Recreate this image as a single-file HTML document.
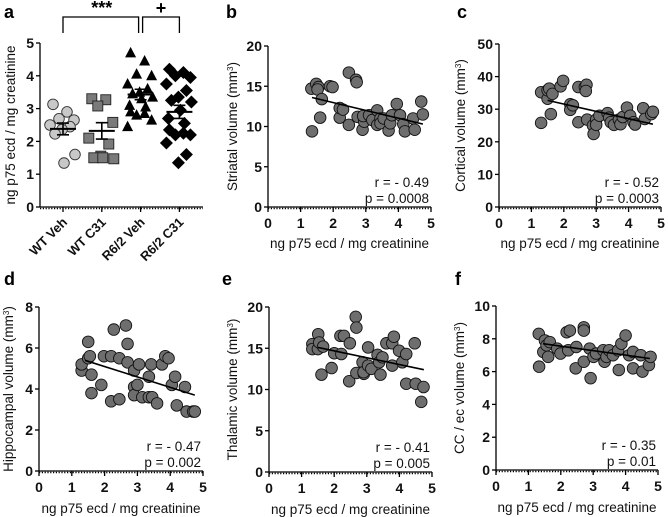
<!DOCTYPE html>
<html><head><meta charset="utf-8">
<style>
body{margin:0;background:#fff;}
svg{display:block;font-family:"Liberation Sans",Arial,sans-serif;}
.tk{font-size:14px;font-weight:bold;fill:#111;}
.gl{font-size:13px;font-weight:bold;fill:#111;}
.tt{font-size:13.5px;fill:#111;}
.pl{font-size:18px;font-weight:bold;fill:#000;}
.st{font-size:13.5px;fill:#111;}
</style></head>
<body>
<svg id="fig" width="668" height="517" viewBox="0 0 668 517" xmlns="http://www.w3.org/2000/svg"></svg>
<script>
// ----- Panel a data -----
const aGroups = ["WT Veh","WT C31","R6/2 Veh","R6/2 C31"];
const aWTVeh = [3.13,2.9,2.69,2.65,2.5,2.45,2.36,2.23,1.6,1.34];
const aWTC31 = [3.3,3.27,3.08,2.58,2.1,1.92,1.55,1.5,1.47,1.5];
const aR62Veh = [4.7,4.45,4.05,4.0,3.75,3.6,3.5,3.45,3.35,3.3,3.1,3.05,2.9,2.85,2.8,2.65,2.45];
const aR62C31 = [4.2,4.1,4.0,3.95,3.75,3.55,3.35,3.25,3.2,2.95,2.7,2.55,2.35,2.25,2.2,2.2,1.95,1.6,1.35];
const aMeans = [2.38,2.32,3.43,2.9];
const aSems = [0.18,0.25,0.16,0.2];
const aYTicks = [0,1,2,3,4,5];
// ----- Scatter x ticks -----
const xTicks = [0,1,2,3,4,5];
// ----- Panel b -----
const bX=[1.33,1.35,1.48,1.55,1.52,1.6,1.65,1.9,1.98,2.2,2.2,2.3,2.48,2.48,2.7,2.72,2.75,2.9,2.95,2.92,3.1,3.2,3.35,3.35,3.45,3.45,3.55,3.7,3.75,3.8,3.95,4.05,4.15,4.2,4.45,4.5,4.7,4.75];
const bY=[14.7,9.4,15.3,14.9,14.6,11.1,13.4,15.0,14.9,11.1,12.3,12.1,10.2,16.7,15.8,15.5,11.2,9.6,10.6,11.3,11.4,10.8,12.0,10.2,11.0,10.4,11.0,9.5,10.4,11.4,12.8,11.4,10.3,9.4,11.0,9.6,13.1,11.5];
const bFit=[[1.35,13.6],[4.75,10.3]];
const bYTicks=[0,5,10,15,20];
// ----- Panel c -----
const cX=[1.3,1.3,1.5,1.5,1.55,1.65,1.6,1.9,1.98,2.2,2.2,2.28,2.45,2.45,2.65,2.7,2.68,2.72,2.9,2.92,3.0,3.0,3.1,3.35,3.4,3.45,3.55,3.7,3.75,3.82,3.95,4.05,4.15,4.2,4.45,4.5,4.7,4.75];
const cY=[35.2,25.8,33.2,35.8,36.3,34.7,28.5,37,38.7,31.5,29.8,31.2,26,36.8,36.8,37.5,35.6,26.8,25,22.4,26.8,25.2,28,28.8,27.4,26,25.2,26.8,25.4,27.6,30.5,28,26,25.3,30.3,27,28.5,29.2];
const cFit=[[1.5,32.7],[4.75,25.4]];
const cYTicks=[0,10,20,30,40,50];
// ----- Panel d -----
const dX=[1.3,1.3,1.5,1.5,1.55,1.6,1.6,1.9,1.98,2.2,2.2,2.28,2.45,2.45,2.65,2.7,2.7,2.9,2.9,2.9,3.0,3.05,3.15,3.35,3.35,3.42,3.45,3.6,3.75,3.85,3.95,4.05,4.15,4.2,4.45,4.5,4.7,4.75];
const dY=[4.9,5.2,6.3,5.5,5.6,4.7,3.8,4.2,5.6,5.6,3.4,6.9,3.5,5.5,7.1,6.2,5.3,4.9,4.1,3.7,4.2,5.2,3.6,4.6,3.6,5.2,3.6,3.3,5.2,5.6,5.5,4.2,4.6,3.2,4.1,2.9,2.9,2.9];
const dFit=[[1.4,5.4],[4.75,3.7]];
const dYTicks=[0,2,4,6,8];
// ----- Panel e -----
const eX=[1.33,1.33,1.51,1.5,1.54,1.61,1.66,1.92,2.0,2.19,2.22,2.3,2.46,2.48,2.66,2.68,2.68,2.87,2.91,2.9,3.04,3.04,3.14,3.33,3.38,3.42,3.48,3.6,3.78,3.78,3.83,3.99,4.09,4.21,4.21,4.47,4.5,4.74,4.67];
const eY=[15.5,14.9,16.7,14.9,15.7,11.8,15.2,12.6,14.4,16.5,14.3,16.5,11.0,15.6,18.8,17.5,12.0,13.3,11.9,12.1,15.1,12.9,12.5,14.2,13.3,11.8,13.9,15.6,15.6,12.9,16.4,14.7,13.3,14.3,10.7,15.6,10.7,10.3,8.5];
const eFit=[[1.5,15.1],[4.75,12.4]];
const eYTicks=[0,5,10,15,20];
// ----- Panel f -----
const fX=[1.32,1.33,1.46,1.51,1.56,1.61,1.66,1.89,1.99,2.18,2.28,2.23,2.46,2.48,2.71,2.71,2.71,2.89,2.92,3.01,3.09,3.31,3.35,3.41,3.49,3.61,3.77,3.79,3.87,4.0,4.11,4.23,4.23,4.47,4.52,4.72,4.77];
const fY=[8.3,6.3,7.2,7.9,7.6,6.9,7.8,7.4,7.1,8.4,8.5,7.3,6.2,7.5,8.7,8.5,6.6,7.4,5.6,6.9,7.1,7.3,6.6,6.9,7.3,7.0,7.3,6.1,7.7,8.2,7.0,7.2,6.2,7.0,6.0,6.4,6.9];
const fFit=[[1.45,7.7],[4.75,6.8]];
const fYTicks=[0,2,4,6,8,10];

const NS="http://www.w3.org/2000/svg";
const svg=document.getElementById('fig');
function mk(tag,attrs,parent,txt){const e=document.createElementNS(NS,tag);for(const k in attrs)e.setAttribute(k,attrs[k]);if(txt!==undefined)e.textContent=txt;(parent||svg).appendChild(e);return e;}

function axisY(g,x0,yPix,ticks){
  const ln=mk('line',{x1:x0,x2:x0,y1:yPix(ticks[ticks.length-1]),y2:yPix(0),stroke:'#000','stroke-width':1.3},g);
  
  
  ticks.forEach(t=>{
    const tk=mk('line',{x1:x0-4,x2:x0,y1:yPix(t),y2:yPix(t),stroke:'#000','stroke-width':1.3},g);
    
    
    const tl=mk('text',{x:x0-6,y:yPix(t)+5,'text-anchor':'end',class:'tk'},g,String(t));
    
    
  });
}
function dottedX(g,x0,x1,y){
  const l=mk('line',{x1:x0,x2:x1,y1:y,y2:y,stroke:'#000','stroke-width':1.2},g);
  
  
  const d=mk('line',{x1:x0,x2:x1,y1:y+1.5,y2:y+1.5,stroke:'#000','stroke-width':1.5,'stroke-dasharray':'1.2 1.6'},g);
  
  
}
function ytitle(g,x,y,label){
  const t=mk('text',{x:0,y:0,class:'tt','text-anchor':'middle',transform:`translate(${x},${y}) rotate(-90)`},g);
  
  
  mk('tspan',{},t,label+' (mm');
  mk('tspan',{'baseline-shift':'super','font-size':'8px'},t,'3');
  mk('tspan',{},t,')');
}

function scatter(name,letter,X,Y,fit,yTicks,lab,r,p,L){
  const g=mk('g',{});
  
  
  const ymax=yTicks[yTicks.length-1];
  const xs=v=>L.x0+(L.x1-L.x0)*v/5;
  const ys=v=>L.y0-(L.y0-L.yt)*v/ymax;
  const pl=mk('text',{x:L.lx,y:L.ly,class:'pl'},g,letter);
  
  
  axisY(g,L.x0,ys,yTicks);
  dottedX(g,L.x0,L.x1,L.y0);
  xTicks.forEach(t=>{
    const tk=mk('line',{x1:xs(t),x2:xs(t),y1:L.y0,y2:L.y0+5,stroke:'#000','stroke-width':1.3},g);
    
    
    const tl=mk('text',{x:xs(t),y:L.y0+21,'text-anchor':'middle',class:'tk'},g,String(t));
    
    
  });
  const xt=mk('text',{x:(L.x0+L.x1)/2,y:L.y0+L.xtOff,'text-anchor':'middle',class:'tt'},g,'ng p75 ecd / mg creatinine');
  
  
  ytitle(g,L.x0-L.ytOff,(L.y0+L.yt)/2,lab);
  X.forEach((xv,i)=>{
    const c=mk('circle',{cx:xs(xv),cy:ys(Y[i]),r:5.8,fill:'#6e6e6e',stroke:'#111','stroke-width':0.9},g);
    
    
  });
  const fl=mk('line',{x1:xs(fit[0][0]),y1:ys(fit[0][1]),x2:xs(fit[1][0]),y2:ys(fit[1][1]),stroke:'#000','stroke-width':1.6},g);
  
  
  const rt=mk('text',{x:L.x1-2,y:L.y0-20,'text-anchor':'end',class:'st'},g,'r = - '+r);
  
  
  const pt=mk('text',{x:L.x1-2,y:L.y0-4,'text-anchor':'end',class:'st'},g,'p = '+p);
  
  
}

scatter('b','b',bX,bY,bFit,bYTicks,'Striatal volume','0.49','0.0008',{x0:268,x1:431,y0:207,yt:46,lx:226,ly:18,ytOff:31,xtOff:41});
scatter('c','c',cX,cY,cFit,cYTicks,'Cortical volume','0.52','0.0003',{x0:499,x1:661,y0:207,yt:44,lx:457,ly:18,ytOff:34,xtOff:41});
scatter('d','d',dX,dY,dFit,dYTicks,'Hippocampal volume','0.47','0.002',{x0:39,x1:203,y0:471,yt:307,lx:4,ly:285,ytOff:26,xtOff:42});
scatter('e','e',eX,eY,eFit,eYTicks,'Thalamic volume','0.41','0.005',{x0:269,x1:432,y0:472,yt:307,lx:222,ly:285,ytOff:32,xtOff:42});
scatter('f','f',fX,fY,fFit,fYTicks,'CC / ec volume','0.35','0.01',{x0:496,x1:658,y0:470,yt:306,lx:455,ly:285,ytOff:32,xtOff:42});

// ----- Panel a -----
(function(){
  const g=mk('g',{});
  
  
  const x0=40,x1=203,y0=207,yt=43;
  const ys=v=>y0-(y0-yt)*v/5;
  const gx=i=>63+i*38.8;
  const pl=mk('text',{x:4,y:18,class:'pl'},g,'a');
  
  
  axisY(g,x0,ys,aYTicks);
  dottedX(g,x0,x1,y0);
  const yt2=mk('text',{x:0,y:0,class:'tt','text-anchor':'middle',transform:`translate(15,125) rotate(-90)`},g,'ng p75 ecd / mg creatinine');
  
  
  const groups=[aWTVeh,aWTC31,aR62Veh,aR62C31];
  const fills=['#c8c8c8','#7a7a7a','#000','#000'];
  const jit=[-10,4,-4,11,-13,7,-1,-8,12,1,-11,5];
  groups.forEach((vals,gi)=>{
    const cx=gx(gi);
    const tk=mk('line',{x1:cx,x2:cx,y1:y0,y2:y0+5,stroke:'#000','stroke-width':1.3},g);
    
    
    const tl=mk('text',{x:0,y:0,'text-anchor':'end',class:'gl',transform:`translate(${cx+5},${y0+16}) rotate(-45)`},g,aGroups[gi]);
    
    
    vals.forEach((v,i)=>{
      const px=cx+jit[i%jit.length], py=ys(v);
      let m;
      if(gi===0) m=mk('circle',{cx:px,cy:py,r:5.3,fill:fills[0],stroke:'#333','stroke-width':0.9},g);
      else if(gi===1) m=mk('rect',{x:px-5,y:py-5,width:10,height:10,fill:fills[1],stroke:'#222','stroke-width':0.9},g);
      else if(gi===2) m=mk('polygon',{points:`${px},${py-6} ${px-5.5},${py+4.5} ${px+5.5},${py+4.5}`,fill:'#000'},g);
      else m=mk('polygon',{points:`${px},${py-6.5} ${px+6.5},${py} ${px},${py+6.5} ${px-6.5},${py}`,fill:'#000'},g);
      
      
    });
    const mean=aMeans[gi],sem=aSems[gi];
    const ml=mk('line',{x1:cx-13,x2:cx+13,y1:ys(mean),y2:ys(mean),stroke:'#000','stroke-width':2},g);
    
    
    const el=mk('path',{d:`M${cx},${ys(mean-sem)}V${ys(mean+sem)}M${cx-6},${ys(mean+sem)}H${cx+6}M${cx-6},${ys(mean-sem)}H${cx+6}`,stroke:'#000','stroke-width':1.6,fill:'none'},g);
    
    
  });
  const b1=mk('path',{d:`M${gx(0)},33V17H${gx(2)-2}V33`,stroke:'#000','stroke-width':1.3,fill:'none'},g);
  
  
  const b2=mk('path',{d:`M${gx(2)+2},33V17H${gx(3)}V33`,stroke:'#000','stroke-width':1.3,fill:'none'},g);
  
  
  const s1=mk('text',{x:(gx(0)+gx(2))/2,y:14,'text-anchor':'middle',class:'pl','font-size':'16px'},g,'***');
  
  
  const s2=mk('text',{x:(gx(2)+gx(3))/2+1,y:14,'text-anchor':'middle',class:'pl','font-size':'16px'},g,'+');
  
  
})();
</script>
</body></html>
